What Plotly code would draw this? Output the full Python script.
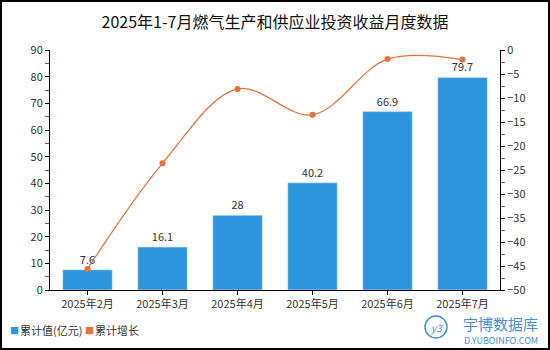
import plotly.graph_objects as go

months = ["2025年2月", "2025年3月", "2025年4月", "2025年5月", "2025年6月", "2025年7月"]
cum_value = [7.6, 16.1, 28, 40.2, 66.9, 79.7]
cum_growth = [-45.6, -23.6, -8.1, -13.5, -1.9, -2.0]
bar_labels = ["7.6", "16.1", "28", "40.2", "66.9", "79.7"]
legend_names = ["累计值(亿元)", "累计增长"]

BLUE = "#2E96DF"
ORANGE = "#E8703A"
LOGO = "#4A8FD0"
FONT = "Noto Sans CJK SC"

L, R, T, B = 50, 50, 50, 60
PW, PH = 550 - L - R, 350 - T - B


def px(x):
    return (x - L) / PW


def py(y):
    return (350 - B - y) / PH


fig = go.Figure()
fig.add_trace(go.Bar(
    x=months, y=cum_value, text=bar_labels, textposition="outside",
    textfont=dict(size=11, color="#333333", family=FONT),
    marker=dict(color=BLUE), width=0.66, showlegend=False, cliponaxis=False,
    name=legend_names[0],
))
fig.add_trace(go.Scatter(
    x=months, y=cum_growth, yaxis="y2", mode="lines+markers",
    line=dict(color=ORANGE, width=1.2, shape="spline", smoothing=1.0),
    marker=dict(color=ORANGE, size=6), showlegend=False, cliponaxis=False,
    name=legend_names[1],
))

fig.update_layout(
    width=550, height=350,
    margin=dict(l=L, r=R, t=T, b=B, autoexpand=False),
    paper_bgcolor="white", plot_bgcolor="white",
    showlegend=False,
    font=dict(family=FONT, size=11, color="#333333"),
    title=dict(text="2025年1-7月燃气生产和供应业投资收益月度数据", x=0.5, xanchor="center",
               y=1 - 22 / 350, yanchor="middle", font=dict(size=16, color="#111111", family=FONT)),
    xaxis=dict(showline=True, linecolor="black", linewidth=1, ticks="outside",
               ticklen=4, tickcolor="black", showgrid=False,
               tickfont=dict(size=11, color="#333333")),
    yaxis=dict(range=[0, 90], dtick=10, showline=True, linecolor="black", linewidth=1,
               ticks="outside", ticklen=4, tickcolor="black", showgrid=False, zeroline=False,
               tickfont=dict(size=11, color="#333333"),
               minor=dict(ticklen=4, tickcolor="#E03030", dtick=5, showgrid=False, ticks="outside")),
    yaxis2=dict(range=[-50, 0], dtick=5, overlaying="y", side="right", showline=True,
                linecolor="black", linewidth=1, ticks="outside", ticklen=4, tickcolor="black",
                showgrid=False, zeroline=False, tickfont=dict(size=11, color="#333333"),
                minor=dict(ticklen=4, tickcolor="#E03030", dtick=2.5, showgrid=False, ticks="outside")),
    shapes=[
        dict(type="rect", xref="paper", yref="paper", x0=px(1), x1=px(549),
             y0=py(349), y1=py(1), line=dict(color="black", width=2)),
        dict(type="circle", xref="paper", yref="paper", x0=px(425), x1=px(447),
             y0=py(338), y1=py(316), line=dict(color=LOGO, width=1.5)),
    ],
    annotations=[
        dict(text="■", xref="paper", yref="paper", x=px(8), y=py(330), xanchor="left",
             yanchor="middle", showarrow=False, font=dict(size=9, color=BLUE)),
        dict(text=legend_names[0], xref="paper", yref="paper", x=px(18), y=py(330), xanchor="left",
             yanchor="middle", showarrow=False, font=dict(size=11, color="#333333")),
        dict(text="■", xref="paper", yref="paper", x=px(83), y=py(330), xanchor="left",
             yanchor="middle", showarrow=False, font=dict(size=9, color=ORANGE)),
        dict(text=legend_names[1], xref="paper", yref="paper", x=px(93), y=py(330), xanchor="left",
             yanchor="middle", showarrow=False, font=dict(size=11, color="#333333")),
        dict(text="宇博数据库", xref="paper", yref="paper", x=px(540), y=py(323), xanchor="right",
             yanchor="middle", showarrow=False, font=dict(size=15, color=LOGO, family=FONT)),
        dict(text="D.YUBOINFO.COM", xref="paper", yref="paper", x=px(540), y=py(340), xanchor="right",
             yanchor="middle", showarrow=False, font=dict(size=9, color=LOGO, family=FONT)),
        dict(text="<i>y3</i>", xref="paper", yref="paper", x=px(436), y=py(327), xanchor="center",
             yanchor="middle", showarrow=False, font=dict(size=10, color=LOGO, family=FONT)),
    ],
)

fig.write_html("out.html")
